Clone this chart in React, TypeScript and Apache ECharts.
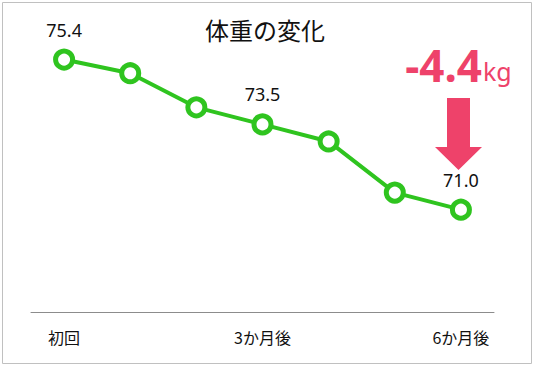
import React, { useEffect, useRef } from "react";
import * as echarts from "echarts";

const categories = ["初回", "", "", "3か月後", "", "", "6か月後"];
const weights = [75.4, 75.0, 74.0, 73.5, 73.0, 71.5, 71.0];
const labeledIndices = [0, 3, 6];
const titleText = "体重の変化";
const changeValue = "-4.4";
const changeUnit = "kg";

const GREEN = "#2fc41f";
const RED = "#ee426a";
const FONT = "'Noto Sans CJK JP', 'Noto Sans', sans-serif";

export default function App() {
  const ref = useRef<HTMLDivElement>(null);
  useEffect(() => {
    if (!ref.current) return;
    const chart = echarts.init(ref.current, null, { renderer: "svg" });
    chart.setOption({
      animation: false,
      backgroundColor: "#fff",
      textStyle: { fontFamily: FONT },
      grid: { left: 31, right: 40, top: 5, bottom: 55, containLabel: false },
      xAxis: {
        type: "category",
        data: categories,
        boundaryGap: true,
        axisLine: { show: true, lineStyle: { color: "#8c8c8c", width: 1 } },
        axisTick: { show: false },
        axisLabel: {
          interval: 0,
          color: "#111",
          fontSize: 16,
          margin: 17,
          fontFamily: FONT,
        },
      },
      yAxis: {
        type: "value",
        min: 68,
        max: 77,
        show: false,
        splitLine: { show: false },
      },
      series: [
        {
          type: "line",
          data: weights.map((v, i) => ({
            value: v,
            label: {
              show: labeledIndices.includes(i),
              position: "top",
              distance: 10,
              formatter: (p: any) => Number(p.value).toFixed(1),
              color: "#111",
              fontSize: 18,
              fontFamily: "'Noto Sans', sans-serif",
            },
          })),
          symbol: "circle",
          symbolSize: 17,
          lineStyle: { color: GREEN, width: 4 },
          itemStyle: { color: "#fff", borderColor: GREEN, borderWidth: 5 },
        },
      ],
      graphic: [
        {
          type: "rect",
          shape: { x: 2.5, y: 2.5, width: 529, height: 361 },
          style: { fill: "none", stroke: "#c0c0c0", lineWidth: 1 },
          silent: true,
        },
        {
          type: "text",
          x: 265,
          y: 29,
          style: {
            text: titleText,
            fill: "#111",
            fontSize: 24,
            fontFamily: FONT,
            align: "center",
            verticalAlign: "middle",
          },
        },
        {
          type: "text",
          x: 482,
          y: 65,
          style: {
            text: changeValue,
            fill: RED,
            fontSize: 44,
            fontWeight: "bold",
            fontFamily: "'Noto Sans', sans-serif",
            align: "right",
            verticalAlign: "middle",
          },
        },
        {
          type: "text",
          x: 483,
          y: 71,
          style: {
            text: changeUnit,
            fill: RED,
            fontSize: 25,
            fontFamily: "'Noto Sans', sans-serif",
            align: "left",
            verticalAlign: "middle",
          },
        },
        {
          type: "polygon",
          shape: {
            points: [
              [447, 98],
              [470, 98],
              [470, 147],
              [482, 147],
              [458.5, 170],
              [435, 147],
              [447, 147],
            ],
          },
          style: { fill: RED },
        },
      ],
    });
    return () => chart.dispose();
  }, []);
  return <div ref={ref} style={{ width: 534, height: 367, position: "absolute", left: 0, top: 0 }} />;
}
